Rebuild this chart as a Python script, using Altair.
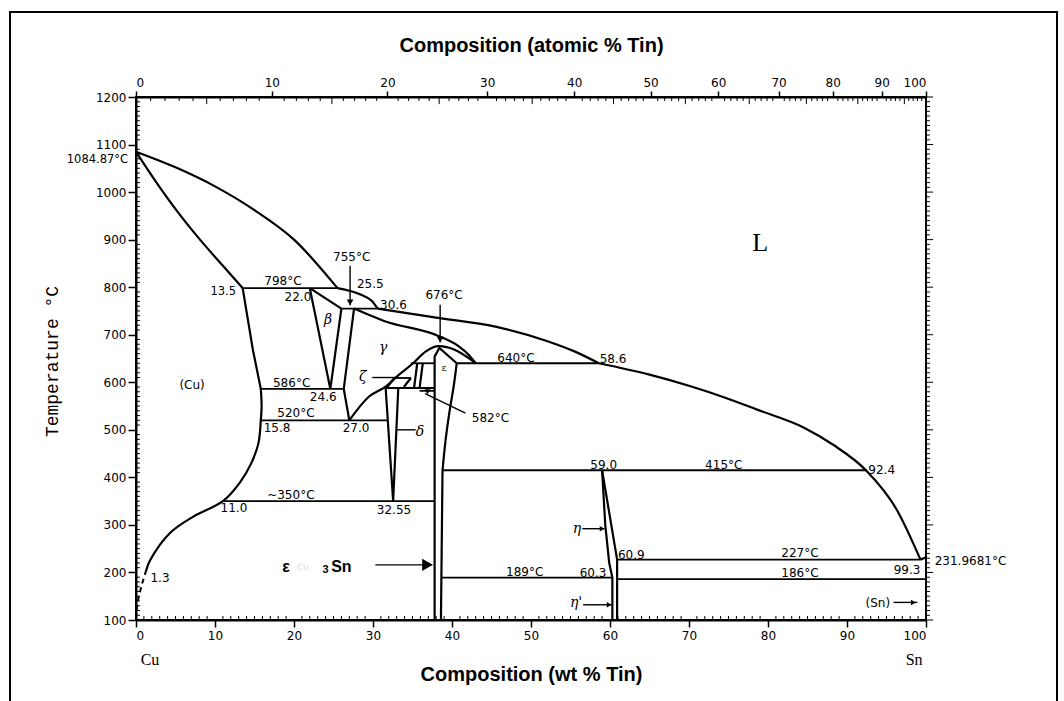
import altair as alt
import pandas as pd

# ---------------------------------------------------------------
# Cu-Sn phase diagram.  Compositions in wt % Sn, temperatures in °C
# ---------------------------------------------------------------

# smooth, x-monotone boundaries (liquidus, solidus, gamma dome)
LIQ_CU_W = [0, 5, 10, 15, 20, 25.5]
LIQ_CU_T = [1084.87, 1052, 1012, 962, 900, 798]
LIQ_BETA_W = [25.5, 28.5, 29.8, 30.6]
LIQ_BETA_T = [798, 784, 772, 755]
LIQ_GAMMA_W = [30.6, 38.0, 45.5, 51.8, 55.5, 58.6]
LIQ_GAMMA_T = [755, 736, 717, 688, 665, 640]
LIQ_SN_W = [58.6, 65.0, 70.3, 74.5, 78.7, 84.5, 88.3, 92.4, 96.3, 99.3]
LIQ_SN_T = [640, 616, 591, 568, 542, 505, 468, 415, 332, 227]
SOL_CU_W = [0, 2.6, 5.2, 8.1, 11.0, 13.5]
SOL_CU_T = [1084.87, 1020, 960, 900, 845, 798]
SOL_GAMMA_W = [27.6, 31.4, 38.5, 40.9, 42.1, 43.0]
SOL_GAMMA_T = [755, 729, 696, 675, 658, 640]
DOME_W = [27.0, 29.5, 31.6, 33.3, 35.0, 36.7, 38.3, 40.4, 42.1, 43.0]
DOME_T = [520, 570, 591, 616, 639, 665, 676, 668, 651, 640]

# smooth boundaries that turn vertical
SOLVUS_CU_W = [15.8, 15.9, 15.8, 15.5, 14.6, 13.1, 11.0, 7.2, 4.3, 1.8, 1.3]
SOLVUS_CU_T = [586, 550, 520, 472, 430, 388, 350, 317, 283, 226, 205]
EPS_RIGHT_W = [40.6, 40.2, 39.7, 39.2, 38.8]
EPS_RIGHT_T = [640, 590, 540, 480, 415]

# metastable low-temperature end of the (Cu) solvus
SOLVUS_DASH_W = [1.3, 0.8, 0.35, 0.1, 0]
SOLVUS_DASH_T = [205, 178, 150, 125, 105]

# straight boundaries
SOLVUS_HI_W = [13.5, 14.8, 15.8]
SOLVUS_HI_T = [798, 668, 586]
BETA_TOP_W = [22.0, 26.0]
BETA_TOP_T = [798, 755]
BETA_LEFT_W = [22.0, 24.6]
BETA_LEFT_T = [798, 586]
BETA_RIGHT_W = [26.0, 24.6]
BETA_RIGHT_T = [755, 586]
GAMMA_LEFT_W = [27.6, 26.3, 27.0]
GAMMA_LEFT_T = [755, 586, 520]
DELTA_W = [31.6, 32.55, 33.2]
DELTA_T = [588, 350, 588]
ZETA_A_W = [31.8, 32.7]
ZETA_A_T = [590, 609]
ZETA_B_W = [33.9, 34.8]
ZETA_B_T = [590, 609]
ZETA_C_W = [35.6, 35.2]
ZETA_C_T = [640, 588]
ZETA_D_W = [36.3, 35.9]
ZETA_D_T = [640, 588]
EPS_LEFT_W = [37.8, 37.8, 38.4, 40.6]
EPS_LEFT_T = [100, 654, 672, 640]
EPS_LOW_W = [38.8, 38.6]
EPS_LOW_T = [415, 100]
ETA_LEFT_W = [59.0, 59.4, 59.9, 60.3, 60.3]
ETA_LEFT_T = [415, 300, 220, 189, 100]
ETA_RIGHT_W = [59.0, 60.9, 60.9]
ETA_RIGHT_T = [415, 227, 100]
SN_END_W = [99.3, 100]
SN_END_T = [227, 231.9681]

# invariant isotherms
ISO_T = [798, 755, 640, 640, 609, 588, 586, 582, 520, 415, 350, 227, 189, 186]
ISO_W0 = [13.5, 26.0, 34.8, 40.6, 32.7, 31.6, 15.8, 35.9, 15.8, 38.8, 11.0, 60.9, 38.6, 60.9]
ISO_W1 = [25.5, 30.6, 37.8, 58.6, 34.8, 37.8, 26.3, 37.8, 31.9, 92.4, 37.8, 99.3, 60.3, 100]

# leader lines / arrows
LEAD_W0 = [27.1, 38.5, 29.9, 32.9, 36.6, 56.5, 56.6, 95.9, 30.3]
LEAD_W1 = [27.1, 38.5, 33.3, 35.4, 41.7, 59.3, 60.2, 98.9, 37.5]
LEAD_T0 = [845, 763, 610, 500, 576, 292, 132, 137, 216]
LEAD_T1 = [762, 684, 610, 500, 535, 292, 132, 137, 216]
HEAD_DOWN_W = [27.1, 38.5]
HEAD_DOWN_T = [768, 690]
HEAD_RIGHT_W = [59.0, 59.9, 98.4]
HEAD_RIGHT_T = [292, 132, 137]
BIG_HEAD_W = [36.9]
BIG_HEAD_T = [216]

# annotations
CENTER_TEXT = ["798°C", "22.0", "755°C", "676°C", "640°C", "586°C", "24.6", "520°C",
               "15.8", "27.0", "~350°C", "11.0", "32.55", "1.3", "59.0", "415°C",
               "60.3", "189°C", "227°C", "186°C", "99.3", "(Cu)", "(Sn)"]
CENTER_W = [18.6, 20.5, 27.3, 39.0, 48.1, 19.7, 23.7, 20.25, 17.85, 27.85, 19.6, 12.4,
            32.66, 3.04, 59.2, 74.4, 57.85, 49.2, 84.05, 84.05, 97.6, 7.1, 93.9]
CENTER_T = [813.6, 780, 864, 784, 651.5, 598.9, 569.4, 535.7, 504.2, 504.2, 363, 335.8,
            331.6, 188.4, 426.3, 426.3, 199, 201, 241, 199, 205, 594.7, 135.8]
LEFT_TEXT = ["25.5", "30.6", "58.6", "582°C", "92.4", "60.9", "231.9681°C"]
LEFT_W = [27.97, 30.9, 58.7, 42.5, 92.7, 61.0, 101.1]
LEFT_T = [807, 763, 649.4, 525.2, 415.8, 236.8, 224.2]
RIGHT_TEXT = ["1084.87°C", "13.5"]
RIGHT_W = [-1.0, 12.66]
RIGHT_T = [1068, 790]
GREEK_TEXT = ["β", "γ", "ζ", "δ", "η", "η'"]
GREEK_W = [24.3, 31.3, 28.7, 35.95, 55.8, 55.7]
GREEK_T = [731.5, 672.6, 611.5, 495.7, 291.6, 135.8]
PHASE_L = ("L", 79.0, 893.6)
PHASE_EPS = ("ε", 39.0, 630.5)
END_TEXT = ["Cu", "Sn"]
END_W = [1.77, 98.5]
END_T = [15.8, 15.8]


def at_to_wt(a):
    """atomic % Sn -> wt % Sn"""
    return 100 * a * 118.71 / (a * 118.71 + (100 - a) * 63.546)


def curves(*items):
    rows = []
    for name, ws, ts in items:
        for i, (w, t) in enumerate(zip(ws, ts)):
            rows.append({"curve": name, "i": i, "w": w, "T": t})
    return pd.DataFrame(rows)


XS = alt.Scale(domain=[0, 100], nice=False, zero=False)
YS = alt.Scale(domain=[100, 1200], nice=False, zero=False)
INK = "#000000"
LBL_FONT = "DejaVu Sans"


def X(field="w", axis=None):
    return alt.X(f"{field}:Q", scale=XS, axis=axis)


def Y(field="T", axis=None):
    return alt.Y(f"{field}:Q", scale=YS, axis=axis)


monotone = curves(
    ("liq_cu", LIQ_CU_W, LIQ_CU_T), ("liq_beta", LIQ_BETA_W, LIQ_BETA_T),
    ("liq_gamma", LIQ_GAMMA_W, LIQ_GAMMA_T), ("liq_sn", LIQ_SN_W, LIQ_SN_T),
    ("sol_cu", SOL_CU_W, SOL_CU_T), ("sol_gamma", SOL_GAMMA_W, SOL_GAMMA_T),
    ("dome", DOME_W, DOME_T),
)
bending = curves(
    ("solvus_cu", SOLVUS_CU_W, SOLVUS_CU_T), ("eps_right", EPS_RIGHT_W, EPS_RIGHT_T),
)
straight = curves(
    ("solvus_hi", SOLVUS_HI_W, SOLVUS_HI_T), ("beta_top", BETA_TOP_W, BETA_TOP_T),
    ("beta_left", BETA_LEFT_W, BETA_LEFT_T), ("beta_right", BETA_RIGHT_W, BETA_RIGHT_T),
    ("gamma_left", GAMMA_LEFT_W, GAMMA_LEFT_T), ("delta", DELTA_W, DELTA_T),
    ("zeta_a", ZETA_A_W, ZETA_A_T), ("zeta_b", ZETA_B_W, ZETA_B_T),
    ("zeta_c", ZETA_C_W, ZETA_C_T), ("zeta_d", ZETA_D_W, ZETA_D_T),
    ("eps_left", EPS_LEFT_W, EPS_LEFT_T), ("eps_low", EPS_LOW_W, EPS_LOW_T),
    ("eta_left", ETA_LEFT_W, ETA_LEFT_T), ("eta_right", ETA_RIGHT_W, ETA_RIGHT_T),
    ("sn_end", SN_END_W, SN_END_T),
)
dashed = curves(("solvus_dash", SOLVUS_DASH_W, SOLVUS_DASH_T))

iso = pd.DataFrame({"w": ISO_W0, "w2": ISO_W1, "T": ISO_T})
leads = pd.DataFrame({"w": LEAD_W0, "w2": LEAD_W1, "T": LEAD_T0, "T2": LEAD_T1})

# axis tick data
bottom_minor = pd.DataFrame({"w": [v for v in range(1, 100) if v % 10],
                             "T": 100, "T2": 108.4})
left_minor = pd.DataFrame({"T": [v for v in range(110, 1200, 10) if v % 100],
                           "w": 0, "w2": 0.5})
right_ticks = pd.DataFrame({"T": list(range(100, 1201, 10))})
right_ticks["w"] = 100
right_ticks["w2"] = [100.9 if t % 100 == 0 else 100.5 for t in right_ticks["T"]]
top_at = [a for a in range(1, 100) if a % 10]
top_minor = pd.DataFrame({"w": [at_to_wt(a) for a in top_at], "T": 1200,
                          "T2": [1185 if a % 5 == 0 else 1191.6 for a in top_at]})
TOP_MAJOR_WT = [round(at_to_wt(a), 4) for a in range(0, 101, 10)]

bottom_axis = alt.Axis(
    orient="bottom", values=list(range(0, 101, 10)), tickSize=7, tickWidth=1.5,
    labelPadding=3, labelFontSize=12, grid=False, domainWidth=2, format="d",
    title="Composition (wt % Tin)", titleFont="Liberation Sans", titleFontSize=20,
    titleFontWeight="bold", titleY=54, titleBaseline="middle",
)
left_axis = alt.Axis(
    orient="left", values=list(range(100, 1201, 100)), tickSize=8, tickWidth=1.5,
    labelPadding=2, labelFontSize=12, grid=False, domainWidth=2, format="d",
    title="Temperature °C", titleFont="Liberation Mono", titleFontSize=18,
    titleFontWeight="normal", titleAngle=270, titleX=-84, titleY=264,
    titleAlign="center", titleBaseline="middle",
)
top_axis = alt.Axis(
    orient="top", values=TOP_MAJOR_WT, tickSize=6, tickWidth=1.5, labelPadding=2,
    labelFontSize=12, grid=False, domainWidth=2,
    labelExpr="round(100 * (datum.value / 118.71) / (datum.value / 118.71 + (100 - datum.value) / 63.546))",
    title="Composition (atomic % Tin)", titleFont="Liberation Sans", titleFontSize=20,
    titleFontWeight="bold", titleY=-52, titleBaseline="middle",
)

one = pd.DataFrame({"k": [0]})
border = alt.Chart(one).mark_rect(fillOpacity=0, stroke=INK, strokeWidth=2).encode(
    x=alt.value(-126), x2=alt.value(921), y=alt.value(-85), y2=alt.value(608)
)

ticks_bottom = alt.Chart(bottom_minor).mark_rule(color=INK, strokeWidth=1).encode(
    x=X(axis=bottom_axis), y=Y(), y2="T2:Q"
)
ticks_top = alt.Chart(top_minor).mark_rule(color=INK, strokeWidth=1).encode(
    x=X(axis=top_axis), y=Y(), y2="T2:Q"
)
ticks_left = alt.Chart(left_minor).mark_rule(color=INK, strokeWidth=1).encode(
    x=X(), x2="w2:Q", y=Y(axis=left_axis)
)
ticks_right = alt.Chart(right_ticks).mark_rule(color=INK, strokeWidth=1).encode(
    x=X(), x2="w2:Q", y=Y()
)

monotone_lines = alt.Chart(monotone).mark_line(
    color=INK, strokeWidth=2.2, interpolate="monotone"
).encode(x=X(), y=Y(), detail="curve:N", order="i:Q")
bending_lines = alt.Chart(bending).mark_line(
    color=INK, strokeWidth=2.2, interpolate="catmull-rom"
).encode(x=X(), y=Y(), detail="curve:N", order="i:Q")
straight_lines = alt.Chart(straight).mark_line(color=INK, strokeWidth=2.2).encode(
    x=X(), y=Y(), detail="curve:N", order="i:Q"
)
dash_lines = alt.Chart(dashed).mark_line(
    color=INK, strokeWidth=2, strokeDash=[5, 4]
).encode(x=X(), y=Y(), detail="curve:N", order="i:Q")
iso_lines = alt.Chart(iso).mark_rule(color=INK, strokeWidth=1.8).encode(
    x=X(), x2="w2:Q", y=Y()
)
lead_lines = alt.Chart(leads).mark_rule(color=INK, strokeWidth=1.4).encode(
    x=X(), x2="w2:Q", y=Y(), y2="T2:Q"
)
heads_down = alt.Chart(pd.DataFrame({"w": HEAD_DOWN_W, "T": HEAD_DOWN_T})).mark_point(
    shape="triangle-down", filled=True, color=INK, size=45, opacity=1
).encode(x=X(), y=Y())
heads_right = alt.Chart(pd.DataFrame({"w": HEAD_RIGHT_W, "T": HEAD_RIGHT_T})).mark_point(
    shape="triangle-right", filled=True, color=INK, size=30, opacity=1
).encode(x=X(), y=Y())
big_head = alt.Chart(pd.DataFrame({"w": BIG_HEAD_W, "T": BIG_HEAD_T})).mark_point(
    shape="triangle-right", filled=True, color=INK, size=150, opacity=1
).encode(x=X(), y=Y())
blob_582 = alt.Chart(pd.DataFrame({"w": [36.9], "T": [580]})).mark_point(
    shape="triangle-down", filled=True, color=INK, size=35, opacity=1
).encode(x=X(), y=Y())


def text_layer(texts, ws, ts, color=INK, **style):
    df = pd.DataFrame({"w": ws, "T": ts, "label": texts})
    return alt.Chart(df).mark_text(color=color, baseline="middle", **style).encode(
        x=X(), y=Y(), text="label:N"
    )


labels_c = text_layer(CENTER_TEXT, CENTER_W, CENTER_T, align="center",
                      font=LBL_FONT, fontSize=12)
labels_l = text_layer(LEFT_TEXT, LEFT_W, LEFT_T, align="left",
                      font=LBL_FONT, fontSize=12)
labels_r = text_layer(RIGHT_TEXT, RIGHT_W, RIGHT_T, align="right",
                      font=LBL_FONT, fontSize=11.5)
greek = text_layer(GREEK_TEXT, GREEK_W, GREEK_T, align="center",
                   font="DejaVu Serif", fontStyle="italic", fontSize=14)
phase_l = text_layer([PHASE_L[0]], [PHASE_L[1]], [PHASE_L[2]], align="center",
                     font="Liberation Serif", fontSize=26)
phase_eps = text_layer([PHASE_EPS[0]], [PHASE_EPS[1]], [PHASE_EPS[2]], align="center",
                       font="DejaVu Serif", fontSize=9)
ends = text_layer(END_TEXT, END_W, END_T, align="center",
                  font="Liberation Serif", fontSize=16)

# ε-Cu3Sn callout
eps_a = text_layer(["ε"], [19.0], [212], align="center", font="Liberation Sans",
                   fontSize=16, fontWeight="bold")
eps_b = text_layer(["Cu"], [21.1], [212], color="#dcdcdc", align="center",
                   font="Liberation Sans", fontSize=9)
eps_c = text_layer(["3"], [24.0], [206], align="center", font="Liberation Sans",
                   fontSize=11, fontWeight="bold")
eps_d = text_layer(["Sn"], [26.0], [212], align="center", font="Liberation Sans",
                   fontSize=16, fontWeight="bold")

chart = alt.layer(
    border, ticks_bottom, ticks_top, ticks_left, ticks_right,
    monotone_lines, bending_lines, straight_lines, dash_lines, iso_lines, lead_lines,
    heads_down, heads_right, big_head, blob_582,
    labels_c, labels_l, labels_r, greek, phase_l, phase_eps, ends,
    eps_a, eps_b, eps_c, eps_d,
).resolve_axis(
    x="independent", y="independent"
).properties(
    width=790, height=523,
    padding={"left": 136, "top": 97, "right": 138, "bottom": 81},
    autosize=alt.AutoSizeParams(type="none"),
    background="white",
).configure_view(
    stroke=INK, strokeWidth=2
).configure_axis(
    labelFont=LBL_FONT, labelColor=INK, tickColor=INK, domainColor=INK, titleColor=INK
)

chart.save("out.html", embed_options={"renderer": "svg", "actions": False})
